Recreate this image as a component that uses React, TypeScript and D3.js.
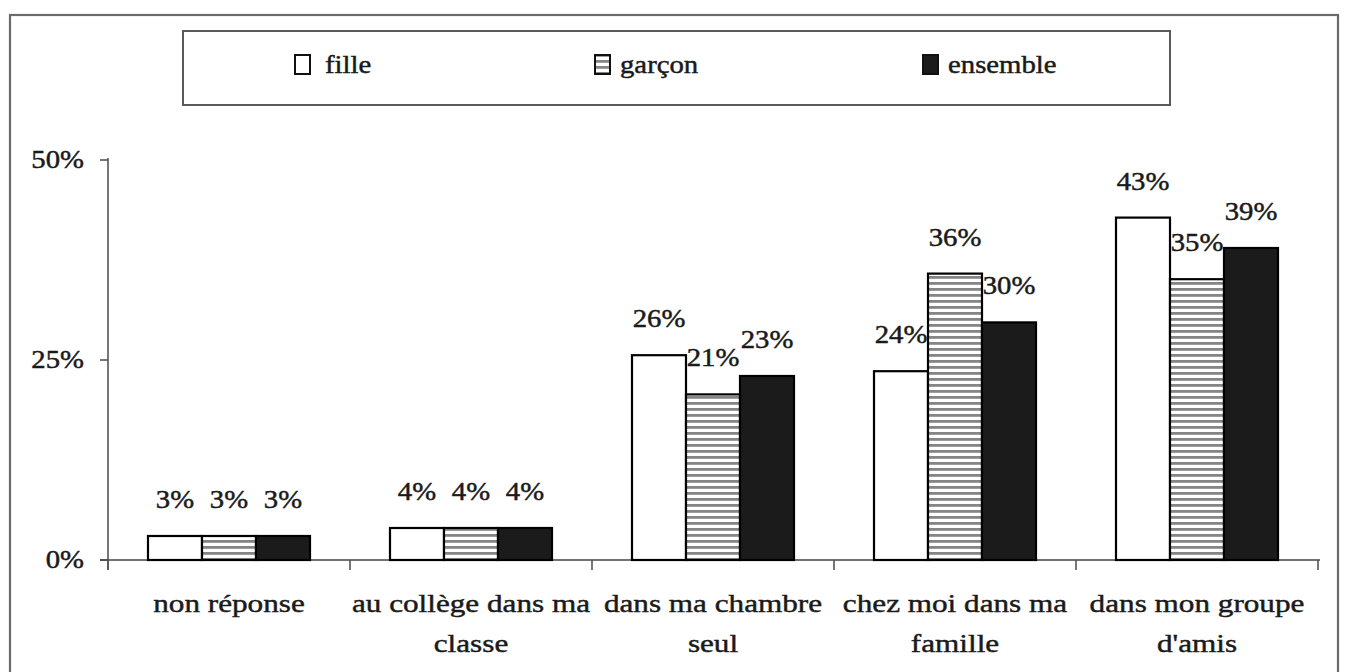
import React from "react";
import * as d3 from "d3";

const categories: string[][] = [
  ["non réponse"],
  ["au collège dans ma", "classe"],
  ["dans ma chambre", "seul"],
  ["chez moi dans ma", "famille"],
  ["dans mon groupe", "d'amis"],
];
const seriesNames = ["fille", "garçon", "ensemble"];
const fille = [3, 4, 25.6, 23.6, 42.8];
const garcon = [3, 4, 20.7, 35.8, 35.1];
const ensemble = [3, 4, 23, 29.7, 39];
const yTicks = [0, 25, 50];

const W = 1345;
const H = 672;
const FONT = "'Liberation Serif', 'Times New Roman', serif";
const SX = 1.15;

export default function App() {
  const values = [fille, garcon, ensemble];
  const x0 = d3
    .scaleBand<number>()
    .domain(d3.range(categories.length))
    .range([108, 1318])
    .padding(0);
  const x1 = d3.scaleBand<string>().domain(seriesNames).range([40, 202]).padding(0);
  const y = d3.scaleLinear().domain([0, 50]).range([560, 160]);

  const fills = ["#ffffff", "url(#hstripe)", "#1b1b1b"];
  const legendMarkerX = [295, 595, 923];
  const legendTextX = [325, 620, 948];

  const T = (props: { x: number; y: number; size: number; anchor?: string; children: any; sx?: number }) => (
    <text
      transform={`translate(${props.x},${props.y}) scale(${props.sx ?? SX},1)`}
      textAnchor={props.anchor ?? "middle"}
      fontFamily={FONT}
      fontSize={props.size}
      fill="#1a1a1a"
      stroke="#1a1a1a"
      strokeWidth={0.45}
    >
      {props.children}
    </text>
  );

  return (
    <div style={{ position: "absolute", left: 0, top: 0 }}>
      <svg width={W} height={H} style={{ display: "block", background: "#fff" }}>
        <defs>
          <pattern id="hstripe" patternUnits="userSpaceOnUse" width={8} height={6}>
            <rect width={8} height={6} fill="#ffffff" />
            <rect y={0} width={8} height={2.8} fill="#858585" />
          </pattern>
        </defs>
        {/* outer frame */}
        <rect x={10} y={15} width={1328} height={700} fill="none" stroke="#6a6a6a" strokeWidth={2.2} />
        {/* legend */}
        <rect x={183} y={31} width={987} height={74} fill="none" stroke="#5a5a5a" strokeWidth={2} />
        {seriesNames.map((s, i) => (
          <g key={s}>
            <rect
              x={legendMarkerX[i]}
              y={55}
              width={15}
              height={19}
              fill={fills[i]}
              stroke="#111"
              strokeWidth={2}
            />
            <T x={legendTextX[i]} y={73} size={25} anchor="start">
              {s}
            </T>
          </g>
        ))}
        {/* y axis */}
        <line x1={108} x2={108} y1={158} y2={570} stroke="#555" strokeWidth={1.6} />
        {yTicks.map((t) => (
          <g key={t}>
            <line x1={100} x2={108} y1={y(t)} y2={y(t)} stroke="#555" strokeWidth={1.6} />
            <T x={84} y={y(t) + 8} size={25} anchor="end">
              {`${t}%`}
            </T>
          </g>
        ))}
        {/* x axis */}
        <line x1={100} x2={1320} y1={y(0)} y2={y(0)} stroke="#444" strokeWidth={1.6} />
        {d3.range(categories.length + 1).map((i) => {
          const xx = i < categories.length ? (x0(i) as number) : 1318;
          return <line key={i} x1={xx} x2={xx} y1={y(0)} y2={y(0) + 10} stroke="#555" strokeWidth={1.6} />;
        })}
        {/* bars */}
        {categories.map((c, ci) => (
          <g key={ci} transform={`translate(${x0(ci)},0)`}>
            {seriesNames.map((s, si) => {
              const v = values[si][ci];
              return (
                <rect
                  key={s}
                  x={x1(s)}
                  y={y(v)}
                  width={x1.bandwidth()}
                  height={y(0) - y(v)}
                  fill={fills[si]}
                  stroke="#000"
                  strokeWidth={2.2}
                />
              );
            })}
            {seriesNames.map((s, si) => {
              const v = values[si][ci];
              return (
                <T key={s + "l"} x={(x1(s) as number) + x1.bandwidth() / 2} y={y(v) - 28} size={25}>
                  {`${Math.round(v)}%`}
                </T>
              );
            })}
            {c.map((line, li) => (
              <T key={li} x={x0.bandwidth() / 2} y={612 + li * 40} size={26} sx={1.2}>
                {line}
              </T>
            ))}
          </g>
        ))}
      </svg>
    </div>
  );
}
